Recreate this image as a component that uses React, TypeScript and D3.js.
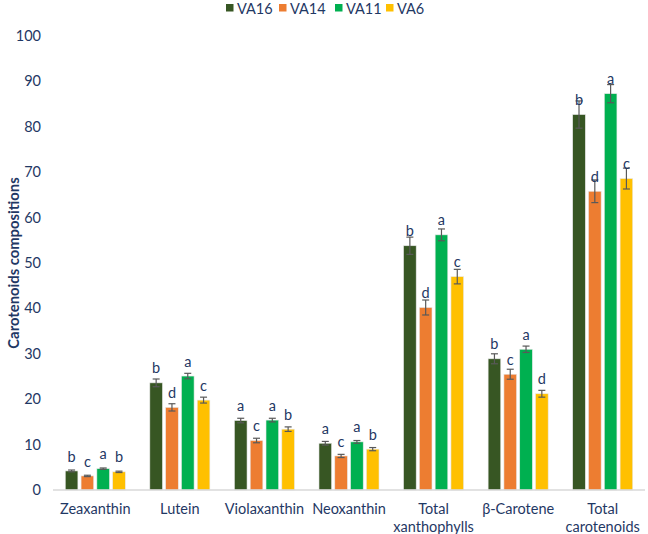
import React from "react";
import * as d3 from "d3";

const categories = ["Zeaxanthin", "Lutein", "Violaxanthin", "Neoxanthin", "Total xanthophylls", "β-Carotene", "Total carotenoids"];
const categoryLines = [["Zeaxanthin"], ["Lutein"], ["Violaxanthin"], ["Neoxanthin"], ["Total", "xanthophylls"], ["β-Carotene"], ["Total", "carotenoids"]];
const seriesNames = ["VA16", "VA14", "VA11", "VA6"];
const seriesColors = ["#375623", "#ED7D31", "#00B050", "#FFC000"];

const va16 = [4.2, 23.6, 15.3, 10.3, 53.8, 28.9, 82.7];
const va14 = [3.1, 18.2, 10.9, 7.5, 40.2, 25.5, 65.8];
const va11 = [4.7, 25.1, 15.4, 10.6, 56.2, 31.0, 87.3];
const va6 = [4.0, 19.8, 13.4, 9.0, 47.0, 21.2, 68.6];

const err16 = [0.2, 0.85, 0.5, 0.4, 1.9, 1.1, 3.0];
const err14 = [0.15, 0.8, 0.5, 0.35, 1.65, 1.1, 2.5];
const err11 = [0.15, 0.6, 0.4, 0.3, 1.3, 0.7, 2.0];
const err6 = [0.15, 0.65, 0.5, 0.35, 1.6, 0.75, 2.3];

const let16 = ["b", "b", "a", "a", "b", "b", "b"];
const let14 = ["c", "d", "c", "c", "d", "c", "d"];
const let11 = ["a", "a", "a", "a", "a", "a", "a"];
const let6 = ["b", "c", "b", "b", "c", "d", "c"];

const yTicks = [0, 10, 20, 30, 40, 50, 60, 70, 80, 90, 100];

const values = [va16, va14, va11, va6];
const errors = [err16, err14, err11, err6];
const letters = [let16, let14, let11, let6];

const W = 648;
const H = 534;
const FONT = "Lato, 'Open Sans', sans-serif";
const NAVY = "#1F3864";
const FS = 14.5;

export default function App() {
  const y = d3.scaleLinear().domain([0, 100]).range([490, 36]);
  const x0 = d3.scaleBand<string>().domain(categories).range([53, 645]).paddingInner(0.29).paddingOuter(0.145);
  const x1 = d3.scaleBand<string>().domain(seriesNames).range([0, x0.bandwidth()]).paddingInner(0.2);

  const legendX = [226, 279, 335, 386];

  return (
    <svg width={W} height={H} style={{ position: "absolute", left: 0, top: 0, background: "#fff" }} fontFamily={FONT}>
      {yTicks.map((t) => (
        <text key={t} x={41} y={y(t)} dy="0.35em" textAnchor="end" fontSize={FS} fill={NAVY}>{t}</text>
      ))}
      <text transform={`translate(14,263) rotate(-90)`} textAnchor="middle" dy="0.35em" fontSize={14.8} fontWeight="bold" fill={NAVY}>
        Carotenoids compositions
      </text>
      {categories.map((c, ci) => (
        <g key={c} transform={`translate(${x0(c)},0)`}>
          {seriesNames.map((s, si) => {
            const v = values[si][ci];
            const e = errors[si][ci];
            const bx = x1(s)!;
            const bw = x1.bandwidth();
            const cx = bx + bw / 2;
            return (
              <g key={s}>
                <rect x={bx} y={y(v)} width={bw} height={y(0) - y(v)} fill={seriesColors[si]} stroke="#e8e8e8" strokeWidth={0.6} />
                <line x1={cx} x2={cx} y1={y(v + e)} y2={y(v - e)} stroke="#595959" strokeWidth={1.2} />
                <line x1={cx - 3.5} x2={cx + 3.5} y1={y(v + e)} y2={y(v + e)} stroke="#595959" strokeWidth={1.2} />
                <line x1={cx - 3.5} x2={cx + 3.5} y1={y(v - e)} y2={y(v - e)} stroke="#595959" strokeWidth={1.2} />
                <text x={cx} y={y(v) - 14.5} dy="0.35em" textAnchor="middle" fontSize={FS} fill={NAVY}>{letters[si][ci]}</text>
              </g>
            );
          })}
        </g>
      ))}
      <line x1={53} x2={645} y1={y(0)} y2={y(0)} stroke="#D9D9D9" strokeWidth={1.5} />
      {categories.map((c, ci) => (
        <text key={c} x={x0(c)! + x0.bandwidth() / 2} y={509} textAnchor="middle" fontSize={FS} fill={NAVY}>
          {categoryLines[ci].map((ln, li) => (
            <tspan key={li} x={x0(c)! + x0.bandwidth() / 2} dy={li === 0 ? "0.35em" : "1.25em"}>{ln}</tspan>
          ))}
        </text>
      ))}
      {seriesNames.map((s, si) => (
        <g key={s}>
          <rect x={legendX[si]} y={4} width={7.5} height={7.5} fill={seriesColors[si]} />
          <text x={legendX[si] + 11} y={13.5} fontSize={FS} fill={NAVY}>{s}</text>
        </g>
      ))}
    </svg>
  );
}
